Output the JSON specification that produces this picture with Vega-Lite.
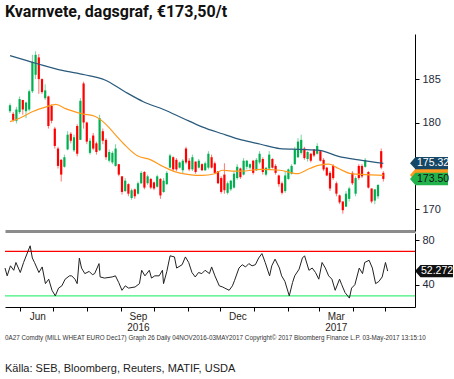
{
"$schema": "https://vega.github.io/schema/vega-lite/v6.json",
"background": "white",
"padding": {"left": 3, "top": 4, "right": 0, "bottom": 0},
"title": {"text": "Kvarnvete, dagsgraf, €173,50/t", "anchor": "start", "frame": "group", "font": "Liberation Sans Narrow, Arial Narrow, Roboto, sans-serif", "fontSize": 16, "fontWeight": "bold", "color": "#111111", "offset": 14},
"config": {"view": {"stroke": null}, "axis": {"grid": false, "labelFont": "Liberation Sans", "labelColor": "#222222", "tickColor": "#000000", "domainColor": "#000000", "title": null}},
"spacing": 2,
"datasets": {
"candles": [
{"date":"2016-05-18","o":181.3,"h":182.2,"l":181.1,"c":182.0},
{"date":"2016-05-21","o":181.0,"h":181.2,"l":180.1,"c":180.3},
{"date":"2016-05-24","o":180.2,"h":181.8,"l":179.9,"c":181.5},
{"date":"2016-05-27","o":181.2,"h":183.0,"l":181.0,"c":182.7},
{"date":"2016-05-30","o":182.6,"h":182.6,"l":180.9,"c":181.5},
{"date":"2016-06-02","o":181.3,"h":182.4,"l":180.5,"c":182.3},
{"date":"2016-06-05","o":181.5,"h":183.8,"l":181.3,"c":183.6},
{"date":"2016-06-08","o":183.6,"h":187.8,"l":183.4,"c":187.0},
{"date":"2016-06-11","o":185.5,"h":188.2,"l":185.0,"c":187.8},
{"date":"2016-06-14","o":187.5,"h":187.9,"l":183.3,"c":185.0},
{"date":"2016-06-17","o":185.0,"h":185.1,"l":183.3,"c":183.5},
{"date":"2016-06-20","o":182.8,"h":184.4,"l":182.6,"c":183.7},
{"date":"2016-06-23","o":183.0,"h":183.1,"l":179.3,"c":179.6},
{"date":"2016-06-26","o":181.9,"h":182.1,"l":179.9,"c":180.2},
{"date":"2016-06-29","o":179.3,"h":179.5,"l":177.0,"c":177.3},
{"date":"2016-07-02","o":177.0,"h":177.2,"l":174.7,"c":175.0},
{"date":"2016-07-05","o":175.7,"h":175.8,"l":173.2,"c":174.0},
{"date":"2016-07-08","o":174.9,"h":176.3,"l":174.8,"c":176.0},
{"date":"2016-07-11","o":176.9,"h":179.0,"l":176.8,"c":178.6},
{"date":"2016-07-14","o":178.7,"h":178.9,"l":177.6,"c":177.9},
{"date":"2016-07-17","o":176.8,"h":178.6,"l":176.6,"c":178.3},
{"date":"2016-07-20","o":179.6,"h":179.8,"l":176.1,"c":176.4},
{"date":"2016-07-23","o":178.0,"h":182.8,"l":178.0,"c":182.5},
{"date":"2016-07-26","o":184.5,"h":184.7,"l":179.3,"c":180.0},
{"date":"2016-07-29","o":180.0,"h":180.1,"l":177.5,"c":177.8},
{"date":"2016-08-01","o":176.5,"h":178.2,"l":176.3,"c":177.9},
{"date":"2016-08-04","o":178.5,"h":178.8,"l":176.8,"c":177.0},
{"date":"2016-08-07","o":177.6,"h":177.8,"l":176.3,"c":176.6},
{"date":"2016-08-10","o":176.8,"h":180.9,"l":176.7,"c":180.5},
{"date":"2016-08-13","o":179.0,"h":179.3,"l":177.5,"c":177.9},
{"date":"2016-08-16","o":178.0,"h":178.2,"l":175.7,"c":176.0},
{"date":"2016-08-19","o":175.6,"h":176.9,"l":175.4,"c":176.6},
{"date":"2016-08-22","o":175.4,"h":176.7,"l":175.2,"c":176.5},
{"date":"2016-08-25","o":175.0,"h":177.5,"l":174.9,"c":177.0},
{"date":"2016-08-28","o":175.2,"h":175.2,"l":173.8,"c":174.0},
{"date":"2016-08-31","o":173.8,"h":173.8,"l":171.7,"c":172.0},
{"date":"2016-09-03","o":172.1,"h":173.6,"l":172.0,"c":173.3},
{"date":"2016-09-06","o":172.9,"h":173.0,"l":171.5,"c":171.8},
{"date":"2016-09-09","o":171.3,"h":172.4,"l":171.1,"c":172.2},
{"date":"2016-09-12","o":172.3,"h":172.4,"l":171.2,"c":171.5},
{"date":"2016-09-15","o":171.8,"h":173.2,"l":171.7,"c":173.0},
{"date":"2016-09-18","o":173.0,"h":174.4,"l":172.9,"c":174.2},
{"date":"2016-09-21","o":174.3,"h":174.4,"l":172.3,"c":172.5},
{"date":"2016-09-24","o":173.0,"h":174.0,"l":172.8,"c":173.8},
{"date":"2016-09-27","o":173.5,"h":173.6,"l":172.3,"c":172.5},
{"date":"2016-09-30","o":173.1,"h":173.2,"l":172.2,"c":172.4},
{"date":"2016-10-03","o":172.6,"h":174.0,"l":172.5,"c":173.8},
{"date":"2016-10-06","o":173.5,"h":173.6,"l":171.2,"c":171.6},
{"date":"2016-10-09","o":172.0,"h":173.6,"l":171.9,"c":173.3},
{"date":"2016-10-12","o":172.9,"h":174.4,"l":172.8,"c":174.2},
{"date":"2016-10-15","o":174.8,"h":176.4,"l":174.7,"c":176.2},
{"date":"2016-10-18","o":176.0,"h":176.1,"l":174.4,"c":174.6},
{"date":"2016-10-21","o":175.7,"h":175.9,"l":174.4,"c":174.6},
{"date":"2016-10-24","o":174.8,"h":175.5,"l":174.7,"c":175.4},
{"date":"2016-10-27","o":174.5,"h":175.8,"l":174.1,"c":175.6},
{"date":"2016-10-30","o":177.0,"h":177.2,"l":175.2,"c":175.4},
{"date":"2016-11-02","o":175.6,"h":175.9,"l":174.4,"c":174.6},
{"date":"2016-11-05","o":174.6,"h":176.3,"l":174.4,"c":176.0},
{"date":"2016-11-08","o":175.5,"h":175.5,"l":174.1,"c":174.3},
{"date":"2016-11-11","o":174.8,"h":175.8,"l":174.7,"c":175.6},
{"date":"2016-11-14","o":175.2,"h":175.3,"l":174.4,"c":174.5},
{"date":"2016-11-17","o":174.5,"h":175.5,"l":174.4,"c":175.3},
{"date":"2016-11-20","o":174.8,"h":176.7,"l":174.6,"c":176.4},
{"date":"2016-11-23","o":176.0,"h":176.3,"l":174.7,"c":174.8},
{"date":"2016-11-26","o":175.3,"h":175.5,"l":174.1,"c":174.2},
{"date":"2016-11-29","o":174.4,"h":174.4,"l":172.9,"c":173.0},
{"date":"2016-12-02","o":173.6,"h":173.8,"l":171.8,"c":172.0},
{"date":"2016-12-05","o":174.0,"h":175.3,"l":171.8,"c":172.2},
{"date":"2016-12-08","o":171.9,"h":173.2,"l":171.7,"c":173.0},
{"date":"2016-12-11","o":172.3,"h":173.4,"l":172.1,"c":173.3},
{"date":"2016-12-14","o":172.5,"h":174.4,"l":172.4,"c":174.1},
{"date":"2016-12-17","o":173.6,"h":175.2,"l":173.4,"c":174.9},
{"date":"2016-12-20","o":174.7,"h":174.8,"l":173.5,"c":173.7},
{"date":"2016-12-23","o":174.0,"h":175.9,"l":173.9,"c":175.6},
{"date":"2016-12-26","o":174.9,"h":175.7,"l":174.6,"c":175.6},
{"date":"2016-12-29","o":174.8,"h":175.3,"l":174.6,"c":175.2},
{"date":"2017-01-01","o":175.6,"h":175.7,"l":174.0,"c":174.2},
{"date":"2017-01-04","o":174.5,"h":175.9,"l":174.4,"c":175.7},
{"date":"2017-01-07","o":175.4,"h":176.7,"l":175.2,"c":176.4},
{"date":"2017-01-10","o":175.8,"h":176.0,"l":174.0,"c":174.3},
{"date":"2017-01-13","o":174.0,"h":174.8,"l":173.8,"c":174.8},
{"date":"2017-01-16","o":174.7,"h":176.7,"l":174.6,"c":176.3},
{"date":"2017-01-19","o":175.8,"h":175.9,"l":174.7,"c":174.8},
{"date":"2017-01-22","o":175.0,"h":175.2,"l":174.0,"c":174.2},
{"date":"2017-01-25","o":173.9,"h":174.0,"l":172.6,"c":172.9},
{"date":"2017-01-28","o":173.0,"h":173.2,"l":171.7,"c":171.9},
{"date":"2017-01-31","o":172.1,"h":174.4,"l":171.9,"c":173.9},
{"date":"2017-02-03","o":173.5,"h":174.7,"l":173.4,"c":174.6},
{"date":"2017-02-06","o":174.1,"h":175.2,"l":174.0,"c":175.0},
{"date":"2017-02-09","o":175.2,"h":177.2,"l":175.1,"c":176.9},
{"date":"2017-02-12","o":176.0,"h":178.2,"l":175.9,"c":177.8},
{"date":"2017-02-15","o":176.5,"h":178.6,"l":176.3,"c":178.0},
{"date":"2017-02-18","o":177.0,"h":177.2,"l":175.7,"c":175.9},
{"date":"2017-02-21","o":175.8,"h":176.7,"l":175.5,"c":176.6},
{"date":"2017-02-24","o":176.4,"h":176.5,"l":175.4,"c":175.6},
{"date":"2017-02-27","o":176.9,"h":176.9,"l":176.0,"c":176.2},
{"date":"2017-03-02","o":176.4,"h":177.6,"l":176.3,"c":177.3},
{"date":"2017-03-05","o":176.7,"h":176.7,"l":175.5,"c":175.6},
{"date":"2017-03-08","o":175.7,"h":175.9,"l":174.4,"c":174.6},
{"date":"2017-03-11","o":174.8,"h":174.9,"l":173.8,"c":173.9},
{"date":"2017-03-14","o":174.2,"h":174.4,"l":172.1,"c":172.4},
{"date":"2017-03-17","o":175.0,"h":175.2,"l":173.4,"c":173.6},
{"date":"2017-03-20","o":173.0,"h":173.2,"l":171.5,"c":171.8},
{"date":"2017-03-23","o":171.6,"h":171.7,"l":170.6,"c":170.8},
{"date":"2017-03-26","o":170.9,"h":170.9,"l":169.5,"c":169.9},
{"date":"2017-03-29","o":170.3,"h":172.1,"l":170.3,"c":171.8},
{"date":"2017-04-01","o":171.2,"h":172.6,"l":170.9,"c":172.4},
{"date":"2017-04-04","o":174.2,"h":174.4,"l":172.8,"c":173.0},
{"date":"2017-04-07","o":171.8,"h":173.8,"l":171.5,"c":173.6},
{"date":"2017-04-10","o":175.0,"h":175.2,"l":173.4,"c":173.6},
{"date":"2017-04-13","o":175.0,"h":175.2,"l":173.6,"c":173.8},
{"date":"2017-04-16","o":174.9,"h":175.9,"l":174.8,"c":175.7},
{"date":"2017-04-19","o":174.3,"h":174.4,"l":172.4,"c":172.5},
{"date":"2017-04-22","o":172.4,"h":172.4,"l":170.7,"c":170.9},
{"date":"2017-04-25","o":171.0,"h":172.3,"l":170.6,"c":172.3},
{"date":"2017-04-28","o":171.5,"h":172.9,"l":171.2,"c":172.8},
{"date":"2017-05-01","o":176.7,"h":177.0,"l":174.6,"c":174.8},
{"date":"2017-05-03","o":174.2,"h":174.4,"l":173.2,"c":173.5}
],
"ma1": [
{"date":"2016-05-18","v":187.7},{"date":"2016-06-12","v":186.8},{"date":"2016-07-06","v":186.0},{"date":"2016-07-27","v":185.5},{"date":"2016-08-15","v":184.9},{"date":"2016-09-02","v":183.6},{"date":"2016-09-20","v":182.4},{"date":"2016-10-09","v":181.5},{"date":"2016-10-27","v":180.5},{"date":"2016-11-14","v":179.5},{"date":"2016-12-03","v":178.7},{"date":"2016-12-21","v":178.0},{"date":"2017-01-08","v":177.5},{"date":"2017-01-26","v":177.0},{"date":"2017-02-14","v":176.9},{"date":"2017-03-04","v":176.8},{"date":"2017-03-22","v":176.1},{"date":"2017-04-10","v":175.7},{"date":"2017-05-03","v":175.3}
],
"ma2": [
{"date":"2016-05-18","v":180.1},{"date":"2016-05-27","v":180.5},{"date":"2016-06-09","v":181.3},{"date":"2016-06-21","v":181.8},{"date":"2016-06-30","v":182.1},{"date":"2016-07-09","v":181.6},{"date":"2016-07-25","v":181.0},{"date":"2016-08-06","v":180.7},{"date":"2016-08-15","v":179.9},{"date":"2016-08-24","v":178.7},{"date":"2016-09-02","v":177.5},{"date":"2016-09-14","v":176.2},{"date":"2016-09-27","v":175.7},{"date":"2016-10-09","v":174.9},{"date":"2016-10-18","v":174.4},{"date":"2016-11-02","v":174.0},{"date":"2016-11-14","v":173.9},{"date":"2016-11-26","v":174.1},{"date":"2016-12-03","v":174.5},{"date":"2016-12-12","v":174.4},{"date":"2016-12-21","v":174.4},{"date":"2017-01-08","v":174.6},{"date":"2017-01-26","v":174.5},{"date":"2017-02-11","v":174.1},{"date":"2017-02-23","v":174.7},{"date":"2017-03-04","v":175.1},{"date":"2017-03-13","v":175.2},{"date":"2017-03-22","v":174.7},{"date":"2017-04-03","v":174.1},{"date":"2017-04-16","v":174.0},{"date":"2017-05-03","v":173.9}
],
"rsi": [
{"date":"2016-05-18","v":55},{"date":"2016-05-20","v":48},{"date":"2016-05-23","v":57},{"date":"2016-05-26","v":53},{"date":"2016-05-28","v":60},{"date":"2016-06-01","v":51},{"date":"2016-06-04","v":60},{"date":"2016-06-08","v":70},{"date":"2016-06-10","v":75},{"date":"2016-06-12","v":64},{"date":"2016-06-14","v":60},{"date":"2016-06-18","v":51},{"date":"2016-06-21","v":56},{"date":"2016-06-24","v":41},{"date":"2016-06-27","v":45},{"date":"2016-06-30","v":35},{"date":"2016-07-03","v":30},{"date":"2016-07-06","v":37},{"date":"2016-07-09","v":39},{"date":"2016-07-12","v":45},{"date":"2016-07-16","v":48},{"date":"2016-07-18","v":48},{"date":"2016-07-21","v":45},{"date":"2016-07-23","v":41},{"date":"2016-07-25","v":64},{"date":"2016-07-27","v":55},{"date":"2016-07-30","v":50},{"date":"2016-08-03","v":52},{"date":"2016-08-06","v":49},{"date":"2016-08-08","v":50},{"date":"2016-08-12","v":59},{"date":"2016-08-13","v":47},{"date":"2016-08-17","v":46},{"date":"2016-08-24","v":47},{"date":"2016-08-27","v":48},{"date":"2016-08-30","v":42},{"date":"2016-09-02","v":35},{"date":"2016-09-05","v":39},{"date":"2016-09-08","v":37},{"date":"2016-09-14","v":38},{"date":"2016-09-18","v":41},{"date":"2016-09-20","v":53},{"date":"2016-09-23","v":48},{"date":"2016-09-27","v":53},{"date":"2016-09-29","v":46},{"date":"2016-10-02","v":48},{"date":"2016-10-06","v":48},{"date":"2016-10-09","v":53},{"date":"2016-10-10","v":41},{"date":"2016-10-13","v":52},{"date":"2016-10-16","v":66},{"date":"2016-10-20","v":65},{"date":"2016-10-22","v":55},{"date":"2016-10-27","v":58},{"date":"2016-10-30","v":65},{"date":"2016-11-02","v":60},{"date":"2016-11-05","v":51},{"date":"2016-11-08","v":47},{"date":"2016-11-11","v":51},{"date":"2016-11-14","v":50},{"date":"2016-11-17","v":53},{"date":"2016-11-21","v":50},{"date":"2016-11-23","v":56},{"date":"2016-11-26","v":48},{"date":"2016-11-30","v":39},{"date":"2016-12-03","v":38},{"date":"2016-12-05","v":37},{"date":"2016-12-09","v":35},{"date":"2016-12-12","v":39},{"date":"2016-12-14","v":44},{"date":"2016-12-18","v":55},{"date":"2016-12-21","v":58},{"date":"2016-12-24","v":56},{"date":"2016-12-27","v":59},{"date":"2016-12-30","v":57},{"date":"2017-01-02","v":58},{"date":"2017-01-05","v":64},{"date":"2017-01-08","v":68},{"date":"2017-01-11","v":60},{"date":"2017-01-15","v":48},{"date":"2017-01-17","v":57},{"date":"2017-01-20","v":63},{"date":"2017-01-24","v":55},{"date":"2017-01-26","v":48},{"date":"2017-01-29","v":43},{"date":"2017-02-02","v":30},{"date":"2017-02-05","v":42},{"date":"2017-02-07","v":48},{"date":"2017-02-11","v":54},{"date":"2017-02-14","v":64},{"date":"2017-02-16","v":66},{"date":"2017-02-20","v":53},{"date":"2017-02-23","v":55},{"date":"2017-02-26","v":51},{"date":"2017-03-01","v":45},{"date":"2017-03-04","v":60},{"date":"2017-03-07","v":55},{"date":"2017-03-10","v":48},{"date":"2017-03-13","v":45},{"date":"2017-03-16","v":35},{"date":"2017-03-20","v":45},{"date":"2017-03-22","v":40},{"date":"2017-03-25","v":33},{"date":"2017-03-29","v":28},{"date":"2017-03-31","v":37},{"date":"2017-04-03","v":40},{"date":"2017-04-07","v":55},{"date":"2017-04-10","v":50},{"date":"2017-04-12","v":60},{"date":"2017-04-16","v":62},{"date":"2017-04-19","v":55},{"date":"2017-04-22","v":41},{"date":"2017-04-25","v":43},{"date":"2017-04-28","v":47},{"date":"2017-05-01","v":60},{"date":"2017-05-03","v":52.272}
],
"ptags": [
{"date":"2017-05-28","v":173.95,"label":"","kind":"ma2"},
{"date":"2017-05-28","v":175.32,"label":"175.32","kind":"ma1"},
{"date":"2017-05-28","v":173.5,"label":"173.50","kind":"last"}
],
"rtags": [
{"date":"2017-05-28","v":52.272,"label":"52.272","kind":"rsi"}
],
"levels": [
{"level":70,"zone":"over"},
{"level":30,"zone":"under"}
]
},
"vconcat": [
{
"width": 410, "height": 197,
"layer": [
{"data": {"name": "candles"}, "mark": {"type": "rule", "strokeWidth": 1, "opacity": 0.55},
 "encoding": {
  "x": {"field": "date", "type": "temporal", "scale": {"type": "utc", "domain": [{"year": 2016, "month": "May", "date": 18, "utc": true}, {"year": 2017, "month": "May", "date": 28, "utc": true}]},
        "axis": {"orient": "bottom", "labels": false, "ticks": false, "domainColor": "#8c8c8c", "domainWidth": 3}},
  "y": {"field": "l", "type": "quantitative", "scale": {"domain": [167.5, 190.2], "zero": false, "nice": false},
        "axis": {"orient": "right", "values": [170, 180, 185], "tickSize": 4, "labelFontSize": 11, "labelPadding": 3, "labelColor": "#1e2a3a", "labelOverlap": false}},
  "y2": {"field": "h"},
  "color": {"condition": {"test": "datum.c >= datum.o", "value": "#00b050"}, "value": "#ff0000"}
 }},
{"data": {"name": "candles"}, "mark": {"type": "bar", "width": 2.2},
 "encoding": {
  "x": {"field": "date", "type": "temporal"},
  "y": {"field": "o", "type": "quantitative"},
  "y2": {"field": "c"},
  "color": {"condition": {"test": "datum.c >= datum.o", "value": "#00b050"}, "value": "#ff0000"}
 }},
{"data": {"name": "ma1"}, "mark": {"type": "line", "color": "#2a5a7c", "strokeWidth": 1.2, "interpolate": "monotone"},
 "encoding": {"x": {"field": "date", "type": "temporal"}, "y": {"field": "v", "type": "quantitative"}}},
{"data": {"name": "ma2"}, "mark": {"type": "line", "color": "#ff9a1f", "strokeWidth": 1.2, "interpolate": "monotone"},
 "encoding": {"x": {"field": "date", "type": "temporal"}, "y": {"field": "v", "type": "quantitative"}}},
{"data": {"name": "ptags"}, "mark": {"type": "point", "filled": true, "opacity": 1, "size": 400, "shape": "M0,0 L0.55,-0.62 L3.8,-0.62 L3.8,0.62 L0.55,0.62 Z"},
 "encoding": {"x": {"field": "date", "type": "temporal"}, "y": {"field": "v", "type": "quantitative"},
  "color": {"field": "kind", "type": "nominal", "scale": {"domain": ["ma2", "ma1", "last"], "range": ["#ff9a1f", "#164766", "#22b24c"]}, "legend": null}}},
{"data": {"name": "ptags"}, "mark": {"type": "text", "align": "left", "baseline": "middle", "dx": 7, "fontSize": 10.5, "font": "Liberation Sans"},
 "encoding": {"x": {"field": "date", "type": "temporal"}, "y": {"field": "v", "type": "quantitative"}, "text": {"field": "label"},
  "color": {"condition": {"test": "datum.kind == 'ma1'", "value": "#ffffff"}, "value": "#111111"}}}
]
},
{
"width": 410, "height": 74,
"title": {"text": "0A27 Comdty (MILL WHEAT EURO   Dec17) Graph 26   Daily 04NOV2016-03MAY2017 Copyright© 2017 Bloomberg Finance L.P.   03-May-2017 13:15:10", "orient": "bottom", "anchor": "start", "frame": "group", "fontSize": 6.3, "fontWeight": "normal", "color": "#333333", "font": "Liberation Sans Narrow, Arial Narrow, sans-serif", "offset": 3, "subtitle": "Källa: SEB, Bloomberg, Reuters, MATIF, USDA", "subtitleFontSize": 11, "subtitleColor": "#222222", "subtitleFont": "Liberation Sans Narrow, Arial Narrow, sans-serif", "subtitlePadding": 22},
"layer": [
{"data": {"name": "levels"}, "mark": {"type": "rule", "strokeWidth": 1.3},
 "encoding": {"y": {"field": "level", "type": "quantitative", "scale": {"domain": [20, 86.5], "zero": false, "nice": false},
        "axis": {"orient": "right", "values": [40, 60, 80], "tickSize": 4, "labelFontSize": 11, "labelPadding": 3, "labelColor": "#1e2a3a", "labelOverlap": false}},
  "color": {"condition": {"test": "datum.zone == 'over'", "value": "#ff0000"}, "value": "#3ff07a"}}},
{"data": {"name": "rsi"}, "mark": {"type": "line", "color": "#222222", "strokeWidth": 1},
 "encoding": {
  "x": {"field": "date", "type": "temporal", "scale": {"type": "utc", "domain": [{"year": 2016, "month": "May", "date": 18, "utc": true}, {"year": 2017, "month": "May", "date": 28, "utc": true}]},
        "axis": {"orient": "bottom", "tickCount": {"interval": "month", "step": 1}, "labelExpr": "utcmonth(datum.value) == 5 ? 'Jun' : utcmonth(datum.value) == 8 ? ['Sep', '2016'] : utcmonth(datum.value) == 11 ? 'Dec' : utcmonth(datum.value) == 2 ? ['Mar', '2017'] : ''", "labelOffset": 17, "labelFontSize": 10, "labelLineHeight": 11, "labelPadding": 0, "tickSize": 4, "labelColor": "#2a2418", "labelOverlap": false, "labelBound": false, "labelFlush": false}},
  "y": {"field": "v", "type": "quantitative"}
 }},
{"data": {"name": "rtags"}, "mark": {"type": "point", "filled": true, "opacity": 1, "size": 400, "shape": "M0,0 L0.55,-0.62 L3.8,-0.62 L3.8,0.62 L0.55,0.62 Z", "color": "#111111"},
 "encoding": {"x": {"field": "date", "type": "temporal"}, "y": {"field": "v", "type": "quantitative"}}},
{"data": {"name": "rtags"}, "mark": {"type": "text", "align": "left", "baseline": "middle", "dx": 6, "fontSize": 10.5, "font": "Liberation Sans", "color": "#ffffff"},
 "encoding": {"x": {"field": "date", "type": "temporal"}, "y": {"field": "v", "type": "quantitative"}, "text": {"field": "label"}}}
]
}
]
}
